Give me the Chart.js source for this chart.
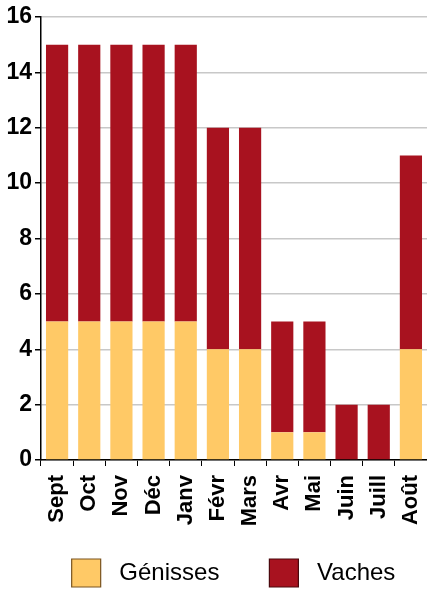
<!DOCTYPE html>
<html>
<head>
<meta charset="utf-8">
<script src="https://cdn.jsdelivr.net/npm/chart.js@4"></script>
<style>
  html, body { margin: 0; padding: 0; background: #fff; }
  #wrap { width: 427px; height: 591px; }
</style>
</head>
<body>
<div id="wrap"><canvas id="c"></canvas></div>
<script>
// months, Sept -> Août
const months = ['Sept', 'Oct', 'Nov', 'Déc', 'Janv', 'Févr', 'Mars', 'Avr', 'Mai', 'Juin', 'Juill', 'Août']
const genisses = [5, 5, 5, 5, 5, 4, 4, 1, 1, 0, 0, 4]
const vaches = [10, 10, 10, 10, 10, 8, 8, 4, 4, 2, 2, 7]
const yTicks = [0, 2, 4, 6, 8, 10, 12, 14, 16]

const font = 'Liberation Sans, Arial, sans-serif'

// nudge the legend so the boxes sit where the original has them
const legendShift = {
    id: 'legendShift',
    afterLayout: (chart) => {
        const lg = chart.legend
        const h = lg.bottom - lg.top
        lg.left += 20; lg.right += 20
        lg.top = 549; lg.bottom = 549 + h
    }
}

const ctx = document.getElementById('c').getContext('2d')
new Chart(ctx, {
    type: 'bar',
    data: {
        labels: months,
        datasets: [{
            label: ' Génisses      ',
            data: genisses,
            backgroundColor: '#ffc966',
            borderColor: '#7a5420',
            borderWidth: 0,
            barPercentage: 0.69,
            categoryPercentage: 1
        }, {
            label: ' Vaches',
            data: vaches,
            backgroundColor: '#a8121f',
            borderColor: '#4a080d',
            borderWidth: 0,
            barPercentage: 0.69,
            categoryPercentage: 1
        }]
    },
    options: {
        responsive: true,
        maintainAspectRatio: false,
        animation: false,
        layout: { padding: { top: 17, right: 0, left: 0, bottom: 0 } },
        plugins: {
            tooltip: { enabled: false },
            legend: {
                position: 'bottom',
                labels: {
                    boxWidth: 29,
                    boxHeight: 28,
                    padding: 10,
                    color: '#000',
                    font: { family: font, size: 24 },
                    generateLabels: (chart) => chart.data.datasets.map((ds, i) => ({
                        text: ds.label,
                        fillStyle: ds.backgroundColor,
                        strokeStyle: ds.borderColor,
                        lineWidth: 1.2,
                        datasetIndex: i
                    }))
                }
            }
        },
        scales: {
            x: {
                stacked: true,
                offset: true,
                afterFit: (axis) => {
                    axis.height = 83
                    axis.paddingLeft = 0
                    axis.paddingRight = 0
                },
                grid: {
                    display: true,
                    drawOnChartArea: false,
                    drawTicks: true,
                    tickLength: 6,
                    color: '#000',
                    offset: true
                },
                border: { color: '#000', width: 1.5 },
                ticks: {
                    minRotation: 90,
                    maxRotation: 90,
                    color: '#000',
                    padding: 9,
                    font: { family: font, size: 22, weight: 'bold' }
                }
            },
            y: {
                stacked: true,
                min: 0,
                max: 16,
                afterBuildTicks: (axis) => { axis.ticks = yTicks.map(v => ({ value: v })) },
                afterFit: (axis) => {
                    axis.width = 41
                    axis.paddingTop = 0
                    axis.paddingBottom = 0
                },
                grid: {
                    color: '#c8c8c8',
                    lineWidth: 1.5,
                    tickColor: '#000',
                    tickLength: 6
                },
                border: { color: '#000', width: 1.5 },
                ticks: {
                    color: '#000',
                    padding: 3,
                    font: { family: font, size: 23, weight: 'bold' }
                }
            }
        }
    },
    plugins: [legendShift]
})
</script>
</body>
</html>
